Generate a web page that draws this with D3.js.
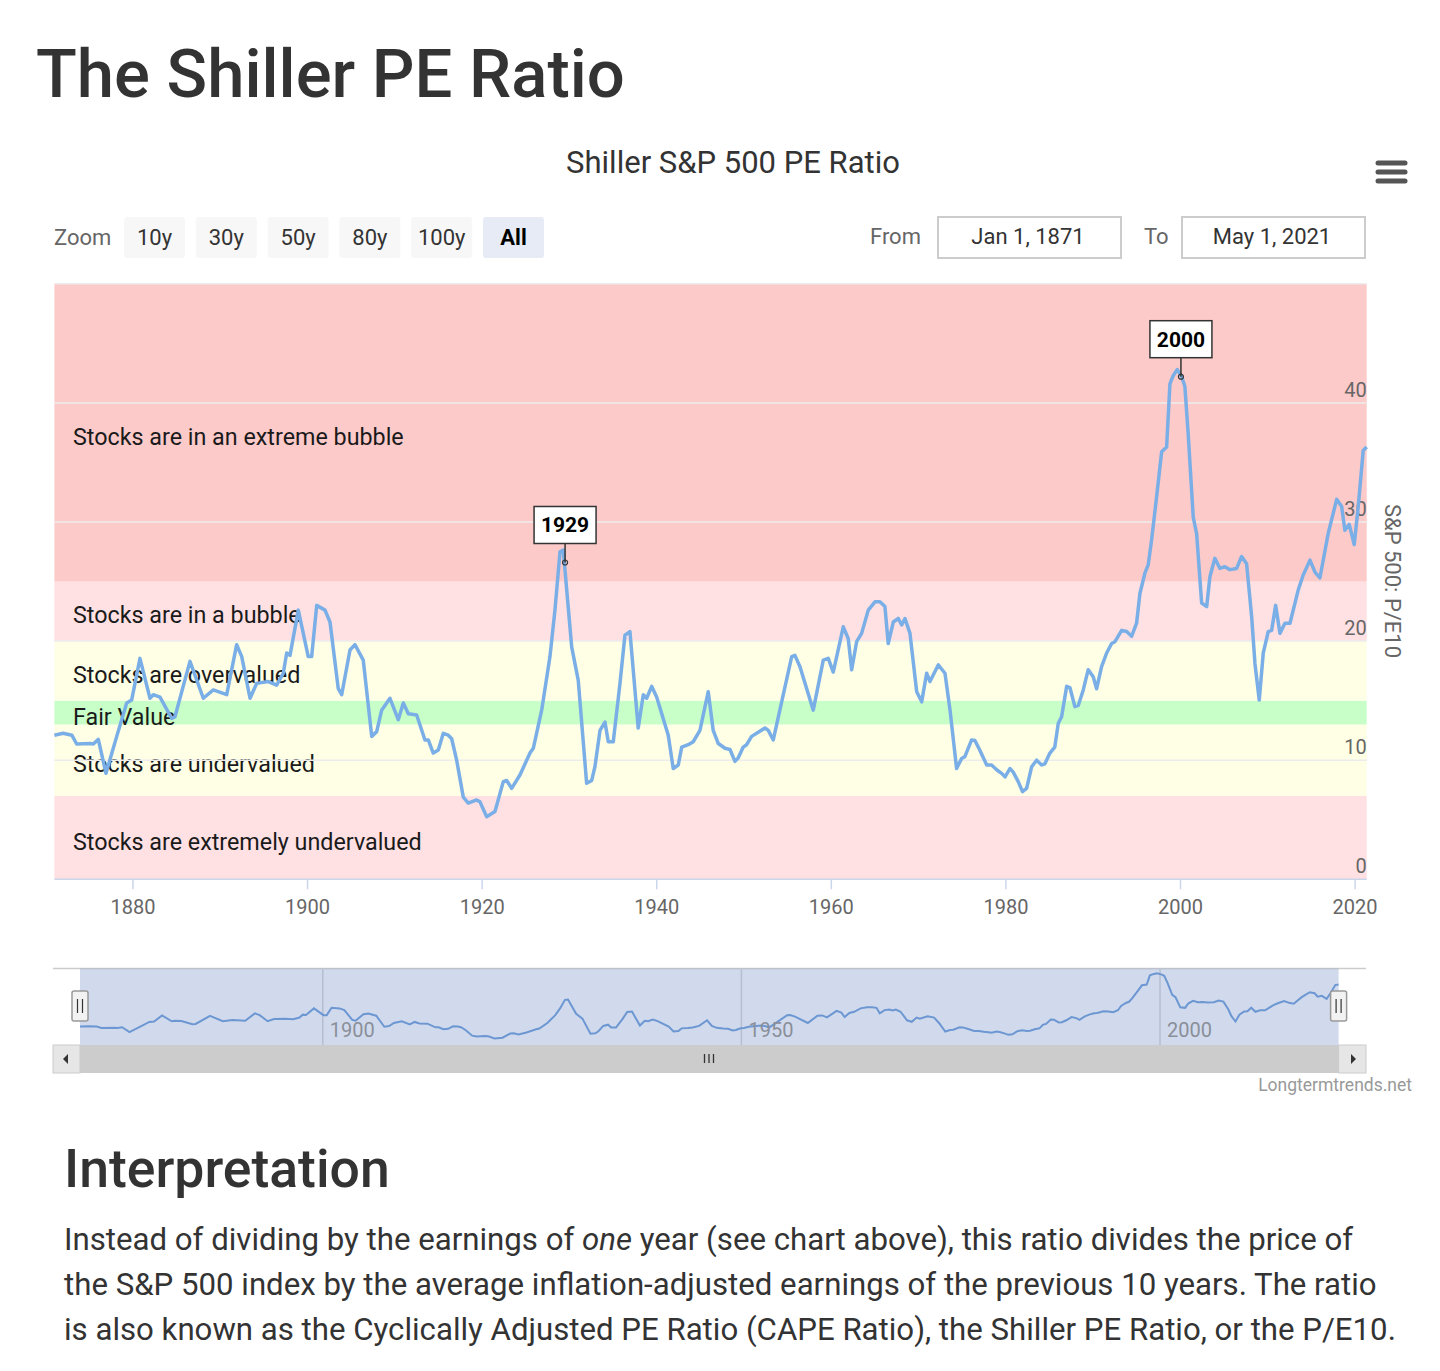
<!DOCTYPE html>
<html>
<head>
<meta charset="utf-8">
<script src="https://cdn.jsdelivr.net/npm/d3@7"></script>
<style>
  body { margin: 0; background: #fff; font-family: Roboto, "Open Sans", sans-serif; }
</style>
</head>
<body>
<div id="chart"></div>
<script>
// Shiller CAPE, values (decimal year, P/E10)
const years = [
  1871.0, 1872.0, 1873.0, 1873.55, 1875.08, 1875.46, 1876.03, 1876.91, 1878.14, 1879.28,
  1879.85, 1880.8, 1881.95, 1882.33, 1883.1, 1884.44, 1884.81, 1886.53, 1888.06, 1889.2,
  1890.74, 1891.88, 1892.46, 1893.41, 1894.17, 1895.5, 1896.46, 1897.22, 1897.61, 1897.99,
  1898.94, 1900.08, 1900.47, 1901.05, 1902.0, 1902.57, 1903.52, 1903.91, 1904.86, 1905.43,
  1906.38, 1907.35, 1907.92, 1908.49, 1909.44, 1910.39, 1910.97, 1911.54, 1912.5, 1913.45,
  1913.83, 1914.4, 1914.98, 1915.55, 1916.12, 1916.51, 1917.08, 1917.84, 1918.41, 1919.37,
  1919.75, 1920.52, 1921.47, 1922.42, 1922.81, 1923.38, 1924.33, 1925.48, 1925.86, 1926.82,
  1927.77, 1928.34, 1928.92, 1929.29, 1930.26, 1931.01, 1931.97, 1932.55, 1932.92, 1933.5,
  1934.07, 1934.45, 1935.02, 1935.79, 1936.36, 1936.93, 1937.88, 1938.46, 1938.85, 1939.42,
  1939.99, 1941.32, 1941.89, 1942.47, 1942.86, 1943.61, 1944.18, 1944.95, 1945.9, 1946.47,
  1947.05, 1947.82, 1948.39, 1948.96, 1949.34, 1949.91, 1950.3, 1950.87, 1951.45, 1952.4,
  1952.78, 1953.35, 1955.46, 1955.83, 1956.41, 1957.93, 1959.08, 1959.65, 1960.22, 1961.37,
  1961.94, 1962.33, 1962.9, 1963.47, 1964.23, 1965.0, 1965.57, 1966.14, 1966.52, 1967.1,
  1967.67, 1968.06, 1968.44, 1969.01, 1969.78, 1970.35, 1970.92, 1971.3, 1972.25, 1973.02,
  1973.6, 1974.35, 1974.93, 1975.3, 1976.07, 1976.45, 1977.0, 1977.8, 1978.36, 1978.94,
  1979.5, 1979.9, 1980.46, 1980.84, 1981.41, 1981.9, 1982.37, 1982.95, 1983.52, 1984.09,
  1984.47, 1985.04, 1985.6, 1986.0, 1986.38, 1986.96, 1987.33, 1987.9, 1988.29, 1988.86,
  1989.43, 1990.0, 1990.39, 1990.96, 1991.54, 1992.11, 1992.49, 1993.26, 1993.83, 1994.4,
  1994.97, 1995.35, 1995.92, 1996.3, 1996.69, 1997.26, 1997.84, 1998.41, 1998.79, 1999.17,
  1999.63, 2000.13, 2000.5, 2000.88, 2001.46, 2001.85, 2002.42, 2003.0, 2003.37, 2003.94,
  2004.52, 2005.09, 2005.66, 2006.43, 2007.0, 2007.57, 2008.15, 2008.53, 2009.02, 2009.48,
  2010.05, 2010.44, 2010.9, 2011.39, 2011.96, 2012.54, 2013.49, 2014.06, 2014.83, 2015.4,
  2015.97, 2016.92, 2017.89, 2018.46, 2018.83, 2019.33, 2019.9, 2020.36, 2020.93, 2021.33
];
const peValues = [
  12.1, 12.26, 12.1, 11.36, 11.4, 11.36, 11.75, 8.9, 12.0, 14.8,
  15.05, 18.55, 15.2, 15.5, 15.3, 13.5, 13.65, 18.3, 15.2, 15.9,
  15.5, 19.7, 18.7, 15.2, 16.45, 16.6, 16.3, 17.3, 19.0, 18.8,
  22.6, 18.7, 18.7, 23.0, 22.6, 21.6, 16.0, 15.5, 19.25, 19.7,
  18.4, 12.0, 12.4, 14.2, 15.2, 13.4, 14.8, 13.9, 13.8, 11.7,
  11.7, 10.6, 10.85, 12.26, 12.1, 11.8, 10.0, 6.9, 6.4, 6.66,
  6.5, 5.26, 5.7, 8.2, 8.3, 7.64, 8.76, 10.6, 11.0, 14.2,
  18.7, 22.6, 27.5, 27.65, 19.5, 16.7, 8.06, 8.3, 9.45, 12.5,
  13.2, 11.55, 11.55, 16.45, 20.5, 20.8, 12.7, 15.5, 15.2, 16.2,
  15.3, 12.1, 9.3, 9.6, 11.1, 11.3, 11.55, 12.5, 15.75, 12.5,
  11.4, 11.0, 10.9, 9.9, 10.2, 11.1, 11.3, 12.0, 12.26, 12.7,
  12.5, 11.7, 18.7, 18.8, 17.85, 14.2, 18.4, 18.55, 17.4, 21.2,
  20.2, 17.6, 19.95, 20.65, 22.6, 23.3, 23.3, 22.9, 19.8, 21.6,
  21.9, 21.35, 21.9, 20.65, 15.75, 14.9, 17.3, 16.6, 18.0, 17.3,
  14.2, 9.3, 10.15, 10.3, 11.7, 11.65, 10.85, 9.6, 9.6, 9.2,
  8.9, 8.6, 9.3, 9.0, 8.2, 7.36, 7.64, 9.45, 10.0, 9.6,
  9.7, 10.6, 11.1, 13.1, 13.65, 16.2, 16.1, 14.5, 14.6, 15.9,
  17.6, 17.0, 16.0, 17.85, 19.0, 19.8, 19.95, 20.9, 20.8, 20.4,
  21.5, 24.0, 25.7, 26.4, 28.5, 32.1, 35.9, 36.3, 41.6, 42.3,
  42.8, 42.2, 41.4, 37.4, 30.4, 29.0, 23.2, 22.9, 25.4, 26.95,
  26.1, 26.25, 26.0, 26.1, 27.1, 26.5, 22.05, 18.1, 15.05, 19.0,
  20.8, 20.9, 23.0, 20.65, 21.5, 21.5, 24.3, 25.55, 26.8, 25.8,
  25.3, 29.05, 31.9, 31.3, 29.3, 29.8, 28.1, 31.3, 36.0, 36.3
];

// valuation bands
const bandNames = ["Stocks are extremely undervalued", "Stocks are undervalued", "Fair Value",
  "Stocks are overvalued", "Stocks are in a bubble", "Stocks are in an extreme bubble"];
const bandFrom = [0, 7, 13, 15, 20, 25];
const bandTo = [7, 13, 15, 20, 25, 50];
const bandColors = ["#ffe1e3", "#ffffe6", "#c8ffc8", "#ffffe6", "#ffe1e3", "#fdcaca"];

// flags
const flagYears = [1929.5, 2000.05];
const flagValues = [26.6, 42.2];
const flagLabels = ["1929", "2000"];

const yTicks = [0, 10, 20, 30, 40];
const xTicks = [1880, 1900, 1920, 1940, 1960, 1980, 2000, 2020];
const navTicks = [1900, 1950, 2000];
const zoomButtons = ["10y", "30y", "50y", "80y", "100y", "All"];

const W = 1440, H = 1371;
const plot = { left: 54.4, right: 1366.7, top: 283.8, bottom: 879.3 };
const nav = { left: 80, right: 1338.6, top: 968.5, bottom: 1045 };

const data = years.map((y, i) => ({ year: y, value: peValues[i] }));

const svg = d3.select("#chart")
  .append("svg")
  .attr("width", W)
  .attr("height", H)
  .style("font-family", "Roboto, sans-serif");

// page heading
svg.append("text")
  .attr("x", 36).attr("y", 97)
  .style("font-size", "67px").style("font-weight", 500)
  .attr("fill", "#333")
  .text("The Shiller PE Ratio");

// chart title
svg.append("text")
  .attr("x", 733).attr("y", 173)
  .attr("text-anchor", "middle")
  .style("font-size", "31px")
  .attr("fill", "#333")
  .text("Shiller S&P 500 PE Ratio");

// context menu icon
svg.append("g")
  .attr("stroke", "#555").attr("stroke-width", 5).attr("stroke-linecap", "round")
  .selectAll("line")
  .data([163, 172, 181])
  .join("line")
  .attr("x1", 1378).attr("x2", 1405)
  .attr("y1", d => d).attr("y2", d => d);

// range selector
svg.append("text")
  .attr("x", 54).attr("y", 245)
  .style("font-size", "22px").attr("fill", "#666")
  .text("Zoom");

const btn = svg.append("g")
  .selectAll("g")
  .data(zoomButtons)
  .join("g")
  .attr("transform", (d, i) => `translate(${124 + i * 71.8},217)`);
btn.append("rect")
  .attr("width", 61).attr("height", 41).attr("rx", 3)
  .attr("fill", d => d === "All" ? "#e6ebf5" : "#f7f7f7");
btn.append("text")
  .attr("x", 30.5).attr("y", 28)
  .attr("text-anchor", "middle")
  .style("font-size", "22px")
  .style("font-weight", d => d === "All" ? "bold" : "normal")
  .attr("fill", d => d === "All" ? "#000" : "#333")
  .text(d => d);

const inputs = [
  { label: "From", lx: 870, bx: 938, text: "Jan 1, 1871" },
  { label: "To", lx: 1144, bx: 1182, text: "May 1, 2021" }
];
inputs.forEach(d => {
  svg.append("text").attr("x", d.lx).attr("y", 244)
    .style("font-size", "22px").attr("fill", "#666").text(d.label);
  svg.append("rect").attr("x", d.bx).attr("y", 217).attr("width", 183).attr("height", 41)
    .attr("fill", "#fff").attr("stroke", "#ccc").attr("stroke-width", 2);
  svg.append("text").attr("x", d.bx + 90).attr("y", 244)
    .attr("text-anchor", "middle")
    .style("font-size", "22px").attr("fill", "#333").text(d.text);
});

// scales
const x = d3.scaleLinear().domain([1871, 2021.33]).range([plot.left, plot.right]);
const y = d3.scaleLinear().domain([0, 50]).range([plot.bottom, plot.top]);

// plot bands
const bands = svg.append("g");
bands.selectAll("rect")
  .data(bandNames)
  .join("rect")
  .attr("x", plot.left)
  .attr("width", plot.right - plot.left)
  .attr("y", (d, i) => y(bandTo[i]))
  .attr("height", (d, i) => y(bandFrom[i]) - y(bandTo[i]))
  .attr("fill", (d, i) => bandColors[i]);

// horizontal grid
svg.append("g")
  .attr("stroke", "#ececec").attr("stroke-width", 1.5)
  .selectAll("line")
  .data(yTicks.concat([50]).filter(d => d > 0))
  .join("line")
  .attr("x1", plot.left).attr("x2", plot.right)
  .attr("y1", d => y(d)).attr("y2", d => y(d));

// band labels
bands.selectAll("text")
  .data(bandNames)
  .join("text")
  .attr("x", 73)
  .attr("y", (d, i) => (y(bandFrom[i]) + y(bandTo[i])) / 2 + 12)
  .style("font-size", "23.3px")
  .attr("fill", "#1a1a1a")
  .text(d => d);

// x axis
svg.append("line")
  .attr("x1", plot.left).attr("x2", plot.right)
  .attr("y1", plot.bottom).attr("y2", plot.bottom)
  .attr("stroke", "#ccd6eb").attr("stroke-width", 1.5);
const xAxis = svg.append("g");
xAxis.selectAll("line")
  .data(xTicks)
  .join("line")
  .attr("x1", d => x(d)).attr("x2", d => x(d))
  .attr("y1", plot.bottom).attr("y2", plot.bottom + 10)
  .attr("stroke", "#ccd6eb").attr("stroke-width", 1.5);
xAxis.selectAll("text")
  .data(xTicks)
  .join("text")
  .attr("x", d => x(d)).attr("y", 914)
  .attr("text-anchor", "middle")
  .style("font-size", "20px").attr("fill", "#666")
  .text(d => d);

// y axis labels (right side)
svg.append("g")
  .selectAll("text")
  .data(yTicks)
  .join("text")
  .attr("x", plot.right)
  .attr("y", d => y(d) - 6)
  .attr("text-anchor", "end")
  .style("font-size", "20px").attr("fill", "#666")
  .text(d => d);

svg.append("text")
  .attr("transform", `translate(1385,581) rotate(90)`)
  .attr("text-anchor", "middle")
  .style("font-size", "22px").attr("fill", "#666")
  .text("S&P 500: P/E10");

// series line
const line = d3.line().x(d => x(d.year)).y(d => y(d.value));
svg.append("path")
  .datum(data)
  .attr("fill", "none")
  .attr("stroke", "#7aaee6")
  .attr("stroke-width", 3.5)
  .attr("stroke-linejoin", "round")
  .attr("d", line);

// flags
const flags = svg.append("g")
  .selectAll("g")
  .data(flagLabels)
  .join("g")
  .attr("transform", (d, i) => `translate(${x(flagYears[i])},${y(flagValues[i])})`);
flags.append("line")
  .attr("x1", 0).attr("x2", 0).attr("y1", -19).attr("y2", 0)
  .attr("stroke", "#333").attr("stroke-width", 1.5);
flags.append("circle")
  .attr("r", 2.5).attr("fill", "none").attr("stroke", "#333").attr("stroke-width", 1.2);
flags.append("rect")
  .attr("x", -31).attr("y", -56).attr("width", 62).attr("height", 37)
  .attr("fill", "#fff").attr("stroke", "#333").attr("stroke-width", 1.5);
flags.append("text")
  .attr("x", 0).attr("y", -30)
  .attr("text-anchor", "middle")
  .style("font-size", "21px").style("font-weight", "bold")
  .attr("fill", "#000")
  .text(d => d);

// navigator
const nx = d3.scaleLinear().domain([1871, 2021.33]).range([nav.left, nav.right]);
const ny = d3.scaleLinear().domain([d3.min(peValues), d3.max(peValues)]).range([1038.5, 973.3]);

svg.append("line")
  .attr("x1", 53).attr("x2", 1366).attr("y1", nav.top).attr("y2", nav.top)
  .attr("stroke", "#ccc").attr("stroke-width", 1.5);

svg.append("g")
  .selectAll("line")
  .data(navTicks)
  .join("line")
  .attr("x1", d => nx(d)).attr("x2", d => nx(d))
  .attr("y1", nav.top).attr("y2", nav.bottom)
  .attr("stroke", "#d8d8d8").attr("stroke-width", 1.5);

svg.append("path")
  .datum(data)
  .attr("fill", "none")
  .attr("stroke", "#6f9fd8")
  .attr("stroke-width", 2)
  .attr("d", d3.line().x(d => nx(d.year)).y(d => ny(d.value)));

svg.append("rect")
  .attr("x", nav.left).attr("y", nav.top)
  .attr("width", nav.right - nav.left).attr("height", nav.bottom - nav.top)
  .attr("fill", "#6685c2").attr("fill-opacity", 0.3);

svg.append("g")
  .selectAll("text")
  .data(navTicks)
  .join("text")
  .attr("x", d => nx(d) + 7).attr("y", 1037)
  .style("font-size", "20px").attr("fill", "#8a8f99")
  .text(d => d);

const handles = svg.append("g")
  .selectAll("g")
  .data([nav.left, nav.right])
  .join("g")
  .attr("transform", d => `translate(${d},991)`);
handles.append("rect")
  .attr("x", -8).attr("width", 16).attr("height", 30).attr("rx", 2)
  .attr("fill", "#f2f2f2").attr("stroke", "#999").attr("stroke-width", 1.5);
handles.append("path")
  .attr("d", "M-2.5,8V22M2.5,8V22")
  .attr("stroke", "#333").attr("stroke-width", 1.2);

// scrollbar
svg.append("rect")
  .attr("x", 53).attr("y", nav.bottom).attr("width", 1313).attr("height", 28)
  .attr("fill", "#f2f2f2");
svg.append("rect")
  .attr("x", nav.left).attr("y", nav.bottom).attr("width", nav.right - nav.left).attr("height", 28)
  .attr("fill", "#cccccc");
svg.append("rect").attr("x", 53).attr("y", nav.bottom).attr("width", 27).attr("height", 28)
  .attr("fill", "#e6e6e6").attr("stroke", "#ccc");
svg.append("rect").attr("x", nav.right).attr("y", nav.bottom).attr("width", 27.4).attr("height", 28)
  .attr("fill", "#e6e6e6").attr("stroke", "#ccc");
svg.append("path").attr("d", "M63,1059l5,-5v10z").attr("fill", "#333");
svg.append("path").attr("d", "M1356,1059l-5,-5v10z").attr("fill", "#333");
svg.append("path")
  .attr("d", "M704.5,1054V1063M709,1054V1063M713.5,1054V1063")
  .attr("stroke", "#333").attr("stroke-width", 1.3);

// credit
svg.append("text")
  .attr("x", 1412).attr("y", 1091)
  .attr("text-anchor", "end")
  .style("font-size", "17.5px").attr("fill", "#999")
  .text("Longtermtrends.net");

// interpretation text
svg.append("text")
  .attr("x", 64).attr("y", 1187)
  .style("font-size", "53.5px").style("font-weight", 500)
  .attr("fill", "#333")
  .text("Interpretation");

const para = svg.append("text")
  .style("font-size", "31.2px").attr("fill", "#333");
const l1 = para.append("tspan").attr("x", 64).attr("y", 1250);
l1.append("tspan").text("Instead of dividing by the earnings of ");
l1.append("tspan").style("font-style", "italic").text("one");
l1.append("tspan").text(" year (see chart above), this ratio divides the price of");
para.append("tspan").attr("x", 64).attr("y", 1295)
  .text("the S&P 500 index by the average inflation-adjusted earnings of the previous 10 years. The ratio");
para.append("tspan").attr("x", 64).attr("y", 1340)
  .text("is also known as the Cyclically Adjusted PE Ratio (CAPE Ratio), the Shiller PE Ratio, or the P/E10.");
</script>
</body>
</html>
